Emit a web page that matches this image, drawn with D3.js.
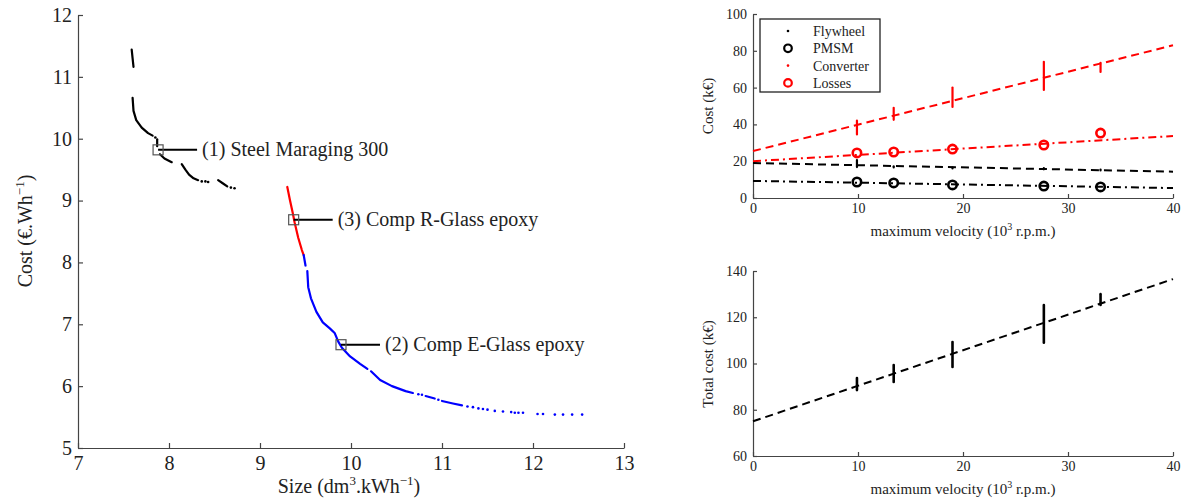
<!DOCTYPE html>
<html><head><meta charset="utf-8">
<script src="https://cdn.jsdelivr.net/npm/d3@7"></script>
<style>
html,body{margin:0;padding:0;background:#fff;}
svg{display:block;}
</style></head>
<body>
<svg id="chart" width="1184" height="500"></svg>
<script>
// ---------- LEFT CHART DATA ----------
const leftXTicks = [7, 8, 9, 10, 11, 12, 13];
const leftYTicks = [5, 6, 7, 8, 9, 10, 11, 12];
// Steel Maraging 300 (black) continuous segments [size, cost]
const steelSegments = [
  [[7.59, 11.44], [7.60, 11.30], [7.61, 11.16]],
  [[7.60, 10.66], [7.61, 10.45], [7.64, 10.30], [7.70, 10.18], [7.77, 10.09], [7.82, 10.05]],
  [[7.87, 9.99], [7.87, 9.88]],
  [[7.90, 9.75], [7.95, 9.68], [8.03, 9.62]],
  [[8.14, 9.59], [8.18, 9.50], [8.22, 9.42], [8.27, 9.36], [8.32, 9.33]],
  [[8.54, 9.33], [8.59, 9.28], [8.64, 9.23]]
];
const steelDots = [[7.85, 10.02], [8.36, 9.31], [8.40, 9.31], [8.43, 9.30], [8.68, 9.21], [8.72, 9.20]];
// Comp R-Glass epoxy (red)
const rglassSegments = [
  [[9.30, 9.22], [9.33, 9.00], [9.36, 8.80], [9.38, 8.65], [9.42, 8.40], [9.46, 8.20], [9.48, 8.12]]
];
// Comp E-Glass epoxy (blue)
const eglassSegments = [
  [[9.48, 8.12], [9.50, 7.95]],
  [[9.52, 7.86], [9.53, 7.60], [9.56, 7.42], [9.62, 7.20], [9.69, 7.03], [9.77, 6.93], [9.82, 6.86],
   [9.86, 6.72], [9.90, 6.62], [9.99, 6.48], [10.10, 6.36], [10.18, 6.28]],
  [[10.22, 6.24], [10.32, 6.10], [10.45, 6.00], [10.60, 5.92], [10.68, 5.89]],
  [[10.82, 5.84], [10.92, 5.80]],
  [[11.00, 5.76], [11.12, 5.72], [11.22, 5.69]]
];
const eglassDots = [[10.74, 5.87], [10.78, 5.86], [10.96, 5.78], [11.28, 5.67], [11.34, 5.66],
  [11.40, 5.64], [11.45, 5.63], [11.50, 5.62], [11.58, 5.60], [11.67, 5.59], [11.76, 5.58], [11.80, 5.57],
  [11.84, 5.57], [11.89, 5.57], [12.05, 5.55], [12.11, 5.55], [12.24, 5.54], [12.33, 5.54],
  [12.43, 5.54], [12.54, 5.54]];
// annotations
const annX = [7.88, 9.37, 9.89];
const annY = [9.82, 8.69, 6.67];
const annLabels = ["(1) Steel Maraging 300", "(3) Comp R-Glass epoxy", "(2) Comp E-Glass epoxy"];

// ---------- RIGHT CHART DATA ----------
const velTicks = [0, 10, 20, 30, 40];
const costTicks = [0, 20, 40, 60, 80, 100];
const totalTicks = [60, 80, 100, 120, 140];
const velPoints = [9.9, 13.4, 19.0, 27.7, 33.1];
const fitX = [0, 40];
// fitted lines (values at fitX)
const flywheelFit = [19.0, 14.3];
const pmsmFit = [9.3, 5.4];
const converterFit = [25.5, 83.0];
const lossesFit = [20.0, 33.7];
const totalFit = [75.0, 136.5];
// point clusters
const flywheelLow = [16.8, 16.6, 16.1, 15.6, 15.0];
const flywheelHigh = [20.6, 17.2, 16.6, 16.2, 15.5];
const pmsmVals = [8.7, 8.2, 7.1, 6.5, 6.0];
const converterLow = [34.5, 42.5, 49.5, 58.7, 68.5];
const converterHigh = [42.0, 49.0, 60.0, 74.0, 73.5];
const lossesVals = [24.5, 25.0, 26.6, 28.8, 35.3];
const totalLow = [88.5, 92.0, 98.5, 109.0, 125.3];
const totalHigh = [93.7, 99.3, 109.3, 125.3, 130.0];
const legendLabels = ["Flywheel", "PMSM", "Converter", "Losses"];

// ---------- DRAW ----------
const svg = d3.select("#chart");
const FONT = "'Liberation Serif', 'Times New Roman', serif";
const AXC = "#444";

function styleAxis(g, size) {
  g.attr("font-family", FONT).attr("font-size", size);
  g.select(".domain").attr("stroke", AXC).attr("stroke-width", 1.2);
  g.selectAll(".tick line").attr("stroke", AXC).attr("stroke-width", 1.2);
  g.selectAll(".tick text").attr("fill", "#222");
}

// LEFT
const xL = d3.scaleLinear().domain([7, 13]).range([78, 624]);
const yL = d3.scaleLinear().domain([5, 12]).range([448, 15]);
const leftG = svg.append("g");
leftG.append("g").attr("transform", "translate(0,448)")
  .call(d3.axisBottom(xL).tickValues(leftXTicks).tickSize(-5).tickSizeOuter(0).tickPadding(8).tickFormat(d3.format("d")))
  .call(g => styleAxis(g, 20));
leftG.append("g").attr("transform", "translate(78,0)")
  .call(d3.axisLeft(yL).tickValues(leftYTicks).tickSize(-5).tickSizeOuter(0).tickPadding(6).tickFormat(d3.format("d")))
  .call(g => styleAxis(g, 20));

const lineL = d3.line().x(d => xL(d[0])).y(d => yL(d[1]));
function drawSegs(segs, dots, color) {
  leftG.append("g").selectAll("path").data(segs).join("path")
    .attr("d", lineL).attr("fill", "none").attr("stroke", color)
    .attr("stroke-width", 2.2).attr("stroke-linecap", "round").attr("stroke-linejoin", "round");
  leftG.append("g").selectAll("circle").data(dots).join("circle")
    .attr("cx", d => xL(d[0])).attr("cy", d => yL(d[1])).attr("r", 1.3).attr("fill", color);
}
drawSegs(steelSegments, steelDots, "#000");
drawSegs(rglassSegments, [], "#ff0000");
drawSegs(eglassSegments, eglassDots, "#0000ff");

const ann = leftG.append("g").selectAll("g").data(annX).join("g")
  .attr("transform", (d, i) => `translate(${xL(d)},${yL(annY[i])})`);
ann.append("line").attr("x1", 0).attr("x2", 39).attr("y1", 0).attr("y2", 0)
  .attr("stroke", "#000").attr("stroke-width", 2);
ann.append("rect").attr("x", -5).attr("y", -5).attr("width", 10).attr("height", 10)
  .attr("fill", "none").attr("stroke", "#555").attr("stroke-width", 1.2);
ann.append("text").attr("x", 44).attr("y", 0).attr("dy", "0.33em")
  .attr("font-family", FONT).attr("font-size", 20).attr("fill", "#222")
  .text((d, i) => annLabels[i]);

// left axis labels
const ylab = leftG.append("text").attr("transform", "translate(32,231) rotate(-90)")
  .attr("text-anchor", "middle").attr("font-family", FONT).attr("font-size", 20).attr("fill", "#222");
ylab.append("tspan").text("Cost (€.Wh");
ylab.append("tspan").attr("dy", -8).attr("font-size", 13).text("−1");
ylab.append("tspan").attr("dy", 8).text(")");
const xlab = leftG.append("text").attr("x", 349).attr("y", 493)
  .attr("text-anchor", "middle").attr("font-family", FONT).attr("font-size", 20).attr("fill", "#222");
xlab.append("tspan").text("Size (dm");
xlab.append("tspan").attr("dy", -8).attr("font-size", 13).text("3");
xlab.append("tspan").attr("dy", 8).text(".kWh");
xlab.append("tspan").attr("dy", -8).attr("font-size", 13).text("−1");
xlab.append("tspan").attr("dy", 8).text(")");

// RIGHT
const xR = d3.scaleLinear().domain([0, 40]).range([753, 1173]);
const yT = d3.scaleLinear().domain([0, 100]).range([198, 14]);
const yB = d3.scaleLinear().domain([60, 140]).range([456, 271]);

function rightAxes(yScale, ticks, y0) {
  const g = svg.append("g");
  g.append("g").attr("transform", `translate(0,${y0})`)
    .call(d3.axisBottom(xR).tickValues(velTicks).tickSize(-4).tickSizeOuter(0).tickPadding(5).tickFormat(d3.format("d")))
    .call(a => styleAxis(a, 14));
  g.append("g").attr("transform", "translate(753,0)")
    .call(d3.axisLeft(yScale).tickValues(ticks).tickSize(-4).tickSizeOuter(0).tickPadding(6).tickFormat(d3.format("d")))
    .call(a => styleAxis(a, 14));
  return g;
}
const topG = rightAxes(yT, costTicks, 198);
const botG = rightAxes(yB, totalTicks, 456);

function fitLine(g, yScale, vals, color, dash) {
  g.append("path").datum(fitX.map((x, i) => [x, vals[i]]))
    .attr("d", d3.line().x(d => xR(d[0])).y(d => yScale(d[1])))
    .attr("fill", "none").attr("stroke", color).attr("stroke-width", 2).attr("stroke-dasharray", dash);
}
function clusters(g, yScale, lo, hi, color, w) {
  g.append("g").selectAll("line").data(velPoints).join("line")
    .attr("x1", d => xR(d)).attr("x2", d => xR(d))
    .attr("y1", (d, i) => yScale(lo[i])).attr("y2", (d, i) => yScale(hi[i]))
    .attr("stroke", color).attr("stroke-width", w).attr("stroke-linecap", "round");
}
function circles(g, yScale, vals, color) {
  g.append("g").selectAll("circle").data(velPoints).join("circle")
    .attr("cx", d => xR(d)).attr("cy", (d, i) => yScale(vals[i])).attr("r", 4.2)
    .attr("fill", "none").attr("stroke", color).attr("stroke-width", 2.6);
}
const DASH = "8,5";
const DASHDOT = "8,4,2,4";
fitLine(topG, yT, converterFit, "#ff0000", DASH);
fitLine(topG, yT, lossesFit, "#ff0000", DASHDOT);
fitLine(topG, yT, flywheelFit, "#000", DASH);
fitLine(topG, yT, pmsmFit, "#000", DASHDOT);
clusters(topG, yT, converterLow, converterHigh, "#ff0000", 2.2);
clusters(topG, yT, flywheelLow, flywheelHigh, "#000", 2.2);
circles(topG, yT, lossesVals, "#ff0000");
circles(topG, yT, pmsmVals, "#000");

fitLine(botG, yB, totalFit, "#000", DASH);
clusters(botG, yB, totalLow, totalHigh, "#000", 2.6);

// legend
const leg = topG.append("g").attr("transform", "translate(760,19)");
leg.append("rect").attr("width", 120).attr("height", 73).attr("fill", "#fff")
  .attr("stroke", "#222").attr("stroke-width", 1.3);
const legColors = ["#000", "#000", "#ff0000", "#ff0000"];
const legCircle = [false, true, false, true];
const rows = leg.selectAll("g.row").data(legendLabels).join("g")
  .attr("transform", (d, i) => `translate(0,${12 + i * 17.3})`);
rows.each(function (d, i) {
  const r = d3.select(this);
  if (legCircle[i]) {
    r.append("circle").attr("cx", 28).attr("cy", 0).attr("r", 3.8).attr("fill", "none")
      .attr("stroke", legColors[i]).attr("stroke-width", 2.2);
  } else {
    r.append("circle").attr("cx", 28).attr("cy", 0).attr("r", 1.3).attr("fill", legColors[i]);
  }
  r.append("text").attr("x", 53).attr("y", 0).attr("dy", "0.35em")
    .attr("font-family", FONT).attr("font-size", 14).attr("fill", "#222").text(d);
});

// right axis labels
function velLabel(y) {
  const t = svg.append("text").attr("x", 963).attr("y", y).attr("text-anchor", "middle")
    .attr("font-family", FONT).attr("font-size", 15).attr("fill", "#222");
  t.append("tspan").text("maximum velocity (10");
  t.append("tspan").attr("dy", -6).attr("font-size", 10).text("3");
  t.append("tspan").attr("dy", 6).text(" r.p.m.)");
}
velLabel(236);
velLabel(494);
svg.append("text").attr("transform", "translate(713,106) rotate(-90)").attr("text-anchor", "middle")
  .attr("font-family", FONT).attr("font-size", 15).attr("fill", "#222").text("Cost (k€)");
svg.append("text").attr("transform", "translate(713,364) rotate(-90)").attr("text-anchor", "middle")
  .attr("font-family", FONT).attr("font-size", 15).attr("fill", "#222").text("Total cost (k€)");
</script>
</body></html>
